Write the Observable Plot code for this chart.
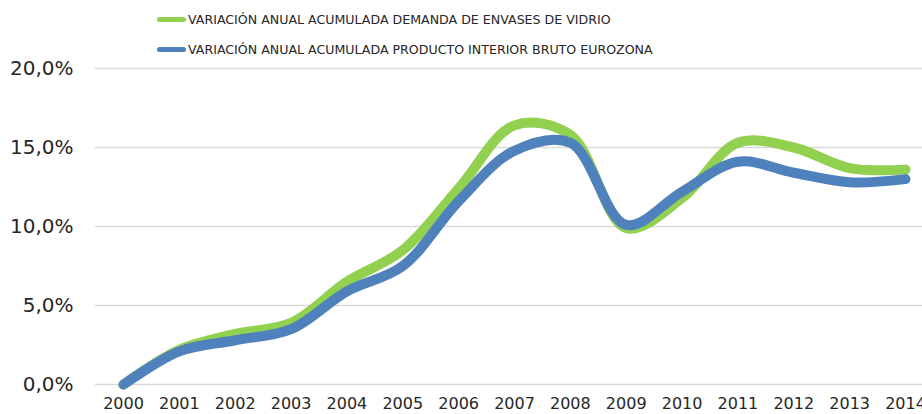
<!DOCTYPE html>
<html>
<head>
<meta charset="utf-8">
<script src="https://cdn.jsdelivr.net/npm/d3@7"></script>
<script src="https://cdn.jsdelivr.net/npm/@observablehq/plot@0.6"></script>
<style>
  html, body { margin: 0; padding: 0; background: #fff; }
  #wrap { position: relative; width: 922px; height: 414px; overflow: hidden; }
  #legend { position: absolute; left: 157px; top: 0; font-family: "DejaVu Sans", sans-serif; font-size: 12.6px; color: #262626; }
  .row { position: absolute; left: 0; white-space: nowrap; display: flex; align-items: center; height: 20px; }
  .sw { width: 29px; height: 5px; border-radius: 3px; margin-right: 2px; }
</style>
</head>
<body>
<div id="wrap">
  <div id="chart"></div>
  <div id="legend"></div>
</div>
<script>
const years = [2000, 2001, 2002, 2003, 2004, 2005, 2006, 2007, 2008, 2009, 2010, 2011, 2012, 2013, 2014];
const demandaVidrio = [0, 2.2, 3.2, 3.9, 6.5, 8.5, 12.4, 16.4, 15.8, 9.9, 11.8, 15.3, 15.0, 13.7, 13.6];
const pibEurozona = [0, 2.1, 2.8, 3.5, 5.9, 7.5, 11.6, 14.8, 15.3, 10.1, 12.2, 14.1, 13.4, 12.8, 13.0];
const yTicks = [0, 5, 10, 15, 20];
const seriesNames = [
  "VARIACIÓN ANUAL ACUMULADA DEMANDA DE ENVASES DE VIDRIO",
  "VARIACIÓN ANUAL ACUMULADA PRODUCTO INTERIOR BRUTO EUROZONA"
];
const colors = ["#92D050", "#4F81BD"];

const greenRows = years.map((y, i) => ({year: y, value: demandaVidrio[i]}));
const blueRows = years.map((y, i) => ({year: y, value: pibEurozona[i]}));
const fmt = d => d.toFixed(1).replace(".", ",") + "%";

const chart = Plot.plot({
  width: 922,
  height: 414,
  marginLeft: 95,
  marginRight: 0,
  marginTop: 68,
  marginBottom: 30,
  style: {fontFamily: "'DejaVu Sans', sans-serif", color: "#262626", background: "#fff"},
  x: {domain: [2000, 2014], range: [123, 905]},
  y: {domain: [0, 20], range: [384, 68]},
  marks: [
    Plot.ruleY(yTicks, {stroke: "#d9d9d9", strokeWidth: 1.5}),
    Plot.axisX({ticks: years, tickFormat: d => String(d), tickSize: 0, tickPadding: 13, fontSize: 16, label: null, fill: "#262626"}),
    Plot.axisY({ticks: yTicks, tickFormat: fmt, tickSize: 0, tickPadding: 22, fontSize: 20, label: null, fill: "#262626"}),
    Plot.line(greenRows, {x: "year", y: "value", curve: "catmull-rom", stroke: colors[0], strokeWidth: 10, strokeLinecap: "round", strokeLinejoin: "round"}),
    Plot.line(blueRows, {x: "year", y: "value", curve: "catmull-rom", stroke: colors[1], strokeWidth: 10, strokeLinecap: "round", strokeLinejoin: "round"})
  ]
});
document.getElementById("chart").appendChild(chart);

const legend = document.getElementById("legend");
seriesNames.forEach((name, i) => {
  const row = document.createElement("div");
  row.className = "row";
  row.style.top = (9 + i * 30) + "px";
  const sw = document.createElement("span");
  sw.className = "sw";
  sw.style.background = colors[i];
  const t = document.createElement("span");
  t.textContent = name;
  row.appendChild(sw);
  row.appendChild(t);
  legend.appendChild(row);
});
</script>
</body>
</html>
